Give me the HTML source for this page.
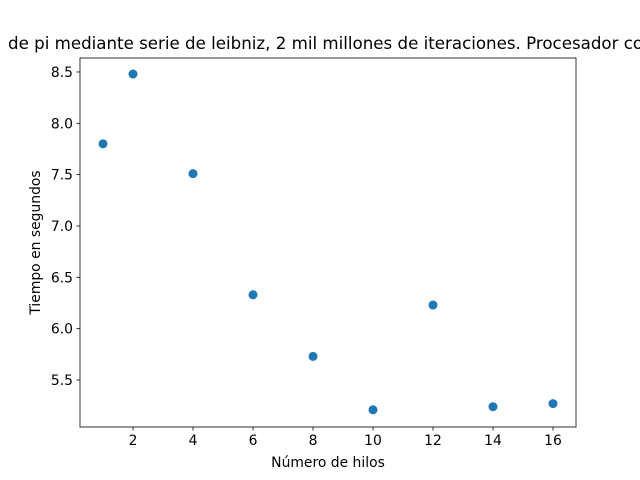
<!DOCTYPE html>
<html><head><meta charset="utf-8"><style>body{margin:0;background:#fff}svg{display:block;font-family:"DejaVu Sans","Liberation Sans",sans-serif}</style></head>
<body>
<svg id="chart" width="640" height="480" viewBox="0 0 640 480">
<rect x="0" y="0" width="640" height="480" fill="#fff"/>
<text x="8" y="49" font-size="16.67" fill="#000">de pi mediante serie de leibniz, 2 mil millones de iteraciones. Procesador con 8 núcleos</text>
<g id="marks"></g>
<rect x="80" y="58" width="496" height="369" fill="none" stroke="#000" stroke-width="0.8"/>
<g id="xticks"></g><g id="yticks"></g>
<text x="328" y="467" font-size="13.9" text-anchor="middle">Número de hilos</text>
<text transform="translate(40,242.5) rotate(-90)" font-size="13.9" text-anchor="middle">Tiempo en segundos</text>
</svg>
<script>
const threads=[1,2,4,6,8,10,12,14,16];
const seconds=[7.80,8.48,7.51,6.33,5.73,5.21,6.23,5.24,5.27];
const xTickLabels=[2,4,6,8,10,12,14,16];
const yTickLabels=[5.5,6.0,6.5,7.0,7.5,8.0,8.5];
const NS="http://www.w3.org/2000/svg";
const xs=v=>103+(v-1)*30;
const ys=v=>380-(v-5.5)*102.67;
const marks=document.getElementById('marks');
threads.forEach((t,i)=>{
 const c=document.createElementNS(NS,'circle');
 c.setAttribute('cx',xs(t));c.setAttribute('cy',ys(seconds[i]));c.setAttribute('r',4.5);c.setAttribute('fill','#1f77b4');
 
 
 marks.appendChild(c);
});
const xt=document.getElementById('xticks');
xTickLabels.forEach(v=>{
 const l=document.createElementNS(NS,'line');
 l.setAttribute('x1',xs(v));l.setAttribute('x2',xs(v));l.setAttribute('y1',427);l.setAttribute('y2',430.5);l.setAttribute('stroke','#000');l.setAttribute('stroke-width',0.8);
 
 
 xt.appendChild(l);
 const t=document.createElementNS(NS,'text');
 t.setAttribute('x',xs(v));t.setAttribute('y',445);t.setAttribute('font-size',13.9);t.setAttribute('text-anchor','middle');t.textContent=v;
 
 
 xt.appendChild(t);
});
const yt=document.getElementById('yticks');
yTickLabels.forEach(v=>{
 const l=document.createElementNS(NS,'line');
 l.setAttribute('x1',76.5);l.setAttribute('x2',80);l.setAttribute('y1',ys(v));l.setAttribute('y2',ys(v));l.setAttribute('stroke','#000');l.setAttribute('stroke-width',0.8);
 
 
 yt.appendChild(l);
 const t=document.createElementNS(NS,'text');
 t.setAttribute('x',73);t.setAttribute('y',ys(v)+5);t.setAttribute('font-size',13.9);t.setAttribute('text-anchor','end');t.textContent=v.toFixed(1);
 
 
 yt.appendChild(t);
});
</script>
</body></html>
